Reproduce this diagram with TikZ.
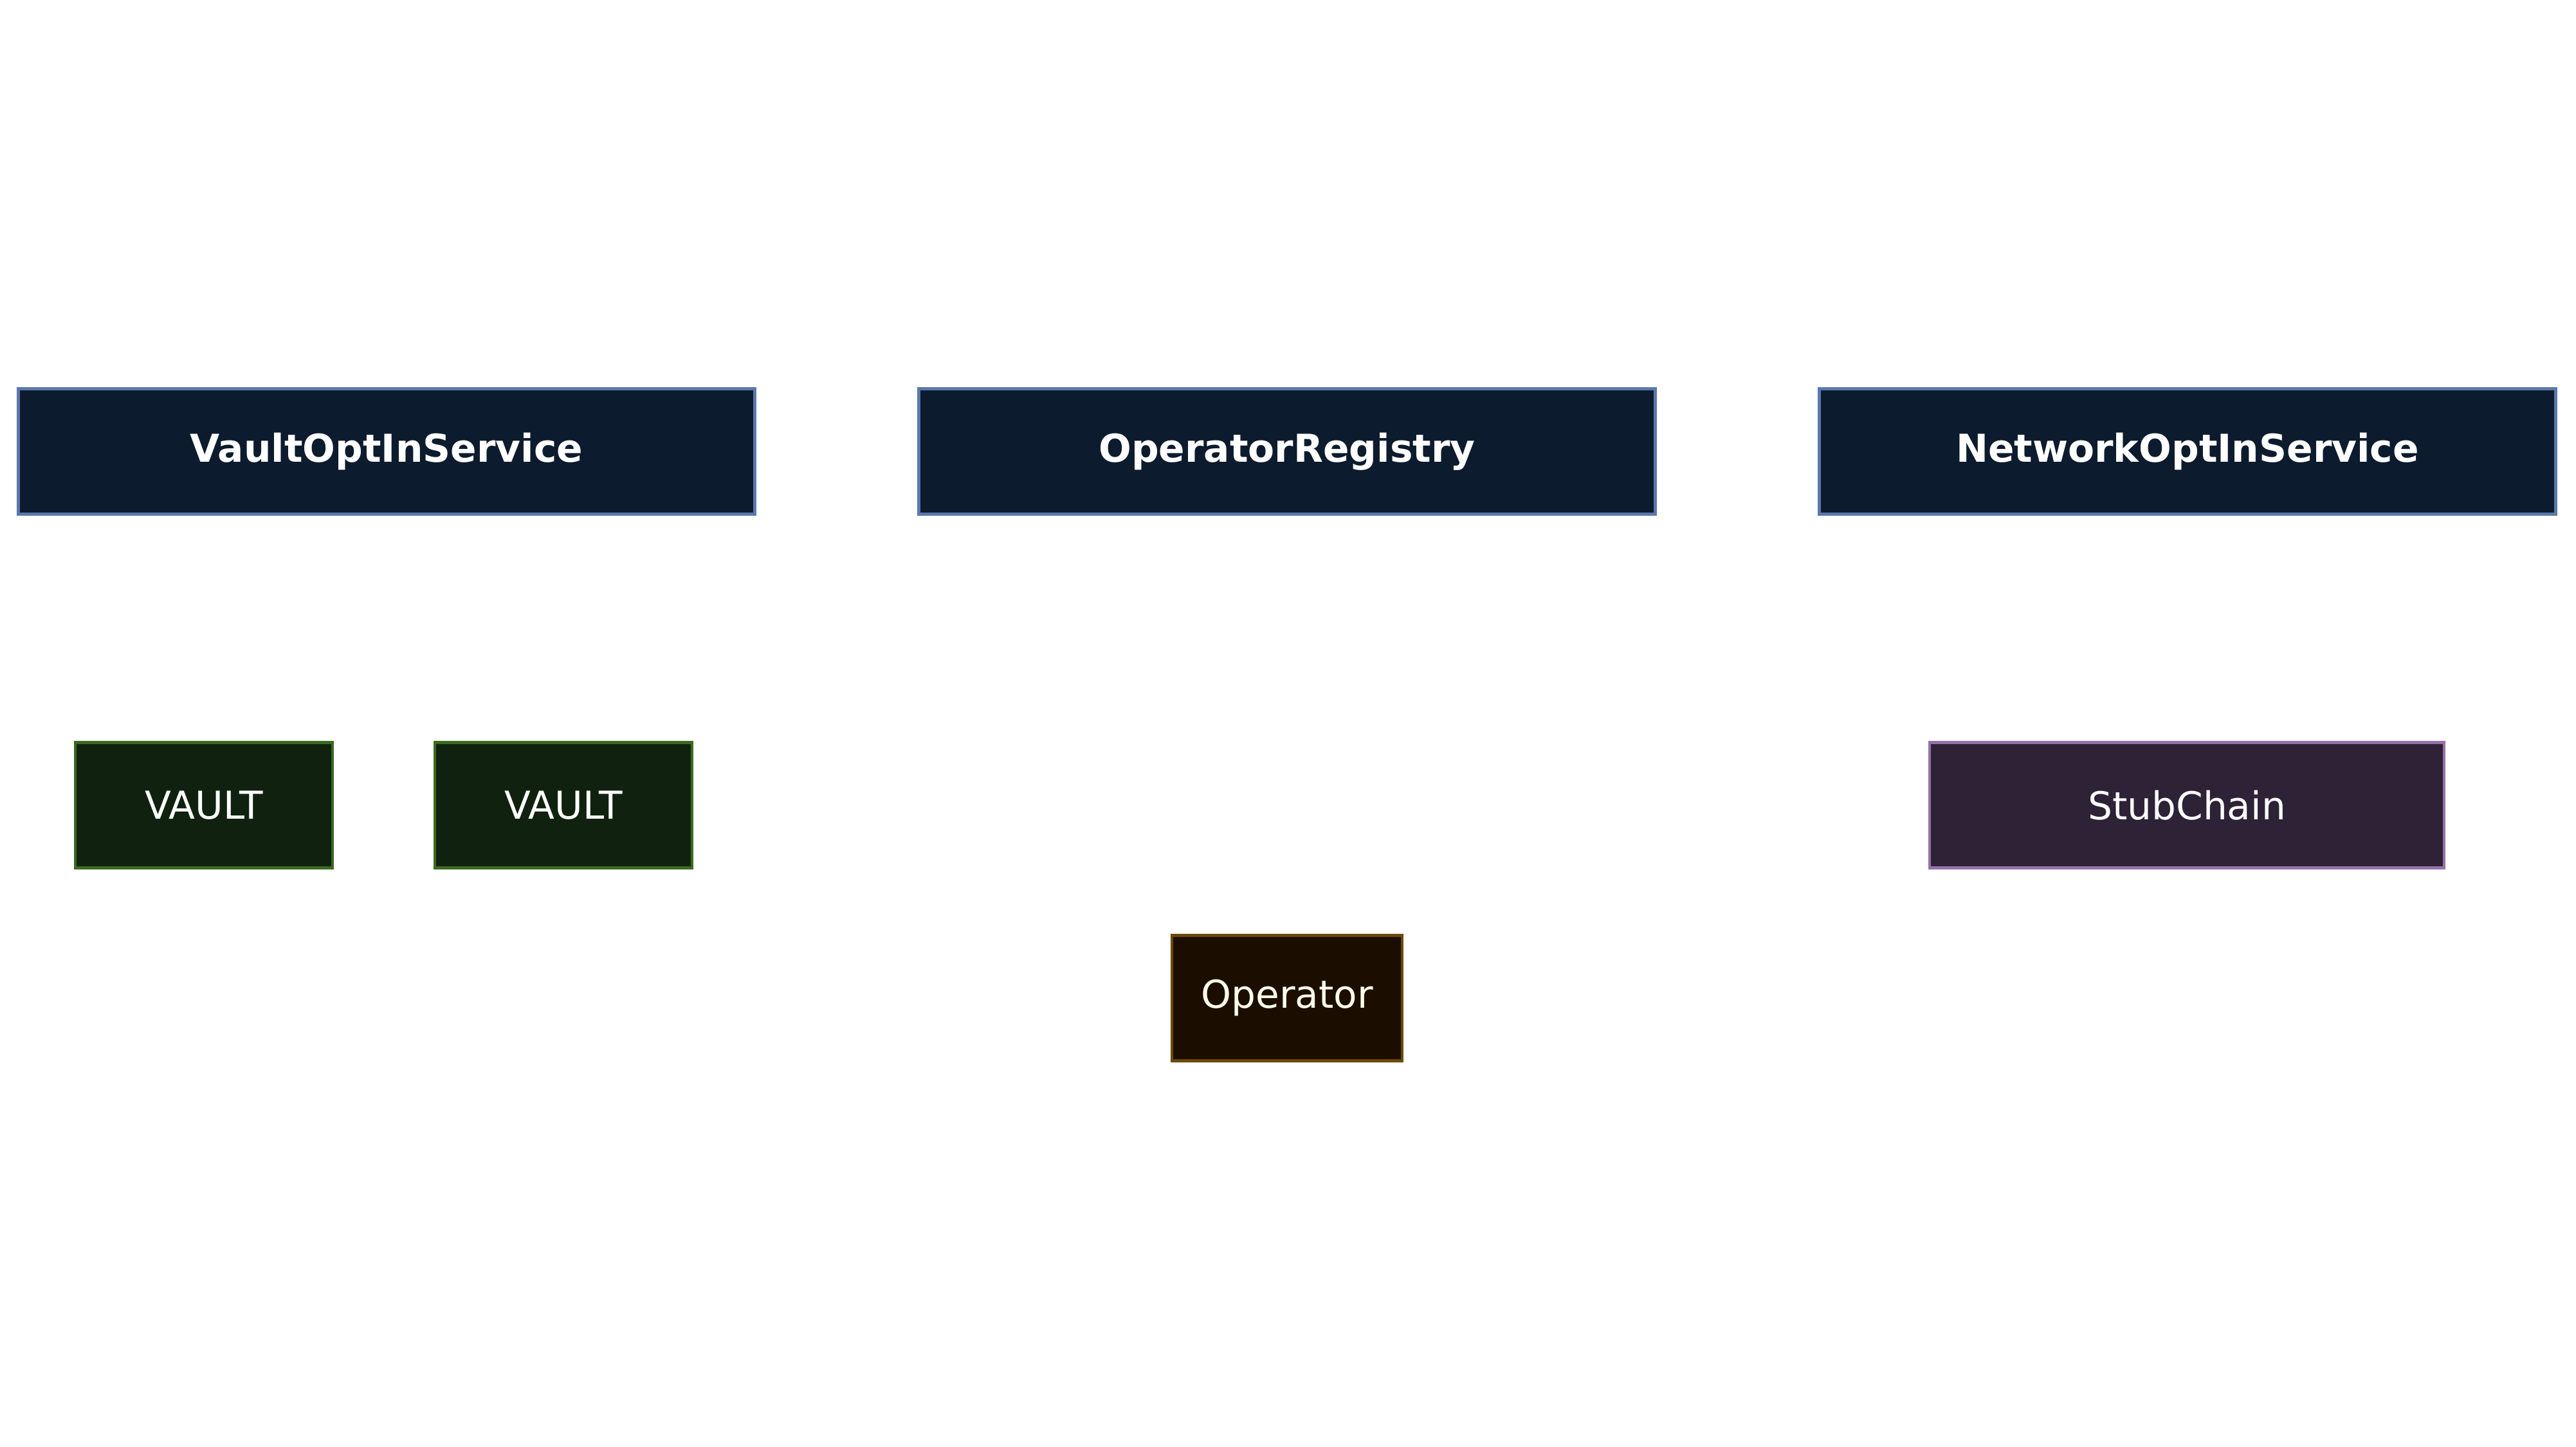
\documentclass[tikz,border=0pt]{standalone}
\usepackage{fontspec}
\setmainfont{DejaVu Sans}
\usetikzlibrary{positioning}
\definecolor{SvcFill}{HTML}{0D1B2E}
\definecolor{SvcLine}{HTML}{5A78AD}
\definecolor{VltFill}{HTML}{10220F}
\definecolor{VltLine}{HTML}{3B6B1F}
\definecolor{OpFill}{HTML}{1B0E00}
\definecolor{OpLine}{HTML}{6B4A05}
\definecolor{ChFill}{HTML}{2E2236}
\definecolor{ChLine}{HTML}{9672AA}
\tikzset{
  box/.style={rectangle,line width=1.2pt,minimum height=1.95cm,inner sep=0pt,
              text=white,font=\fontsize{17}{20}\selectfont},
  svc/.style={box,draw=SvcLine,fill=SvcFill,minimum width=11.45cm,
              font=\fontsize{17}{20}\selectfont\bfseries},
  vlt/.style={box,draw=VltLine,fill=VltFill,minimum width=4.0cm},
  op/.style ={box,draw=OpLine,fill=OpFill,minimum width=3.58cm,text=white!92!yellow},
  chain/.style={box,draw=ChLine,fill=ChFill,minimum width=8.0cm},
}

\begin{document}
\begin{tikzpicture}
  \useasboundingbox (0,0) rectangle (40.05,-22.5);
  % services
  \node[svc] (vsvc) at (6.01,-7.02)  {VaultOptInService};
  \node[svc] (oreg) at (20.01,-7.02) {OperatorRegistry};
  \node[svc] (nsvc) at (34.01,-7.02) {NetworkOptInService};
  % participants
  \node[vlt] (v1) at (3.17,-12.52) {VAULT};
  \node[vlt] (v2) at (8.76,-12.52) {VAULT};
  \node[chain] (stub) at (34.00,-12.52) {StubChain};
  \node[op] (oper) at (20.01,-15.52) {Operator};
\end{tikzpicture}
\end{document}
